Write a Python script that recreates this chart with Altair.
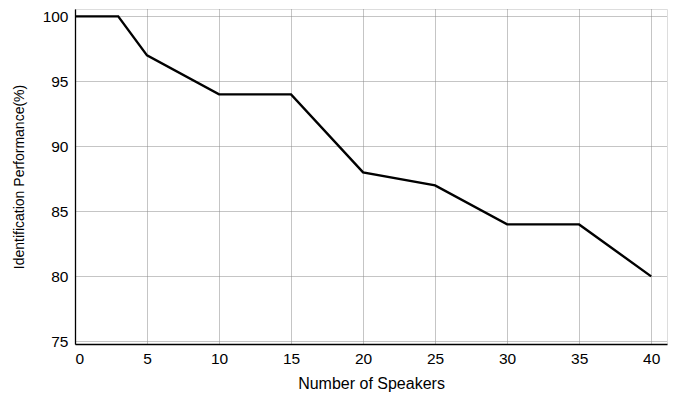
import altair as alt
import pandas as pd

speakers = [0, 3, 5, 10, 15, 20, 25, 30, 35, 40]
performance = [100, 100, 97, 94, 94, 88, 87, 84, 84, 80]
x_ticks = [0, 5, 10, 15, 20, 25, 30, 35, 40]
y_ticks = [75, 80, 85, 90, 95, 100]

df = pd.DataFrame({"speakers": speakers, "performance": performance})

font = "Liberation Sans"

common = dict(format="d", ticks=False, tickSize=0, labelPadding=7,
              labelFontSize=15.5, labelFont=font, titleFont=font,
              titleFontWeight="normal", labelColor="black", titleColor="black",
              domainColor="black", domainWidth=1.3,
              grid=True, gridColor="#8a8a8a", gridDash=[1, 1], gridWidth=1)

chart = alt.Chart(df).mark_line(color="black", strokeWidth=2.4, clip=True).encode(
    x=alt.X("speakers:Q",
            scale=alt.Scale(domain=[0, 41.1], nice=False, zero=False),
            axis=alt.Axis(values=x_ticks, title="Number of Speakers",
                          titlePadding=9, titleFontSize=16, **common)),
    y=alt.Y("performance:Q",
            scale=alt.Scale(domain=[74.8, 100.57], nice=False, zero=False),
            axis=alt.Axis(values=y_ticks, title="Identification Performance(%)",
                          titlePadding=16, titleFontSize=14, **common)),
).properties(
    width=592, height=335,
    autosize=alt.AutoSizeParams(type="none"),
    padding={"left": 67, "top": 1, "right": 5, "bottom": 50},
).configure_view(stroke=None).configure(background="white")

chart.save("out.html", embed_options={"renderer": "svg", "actions": False})
